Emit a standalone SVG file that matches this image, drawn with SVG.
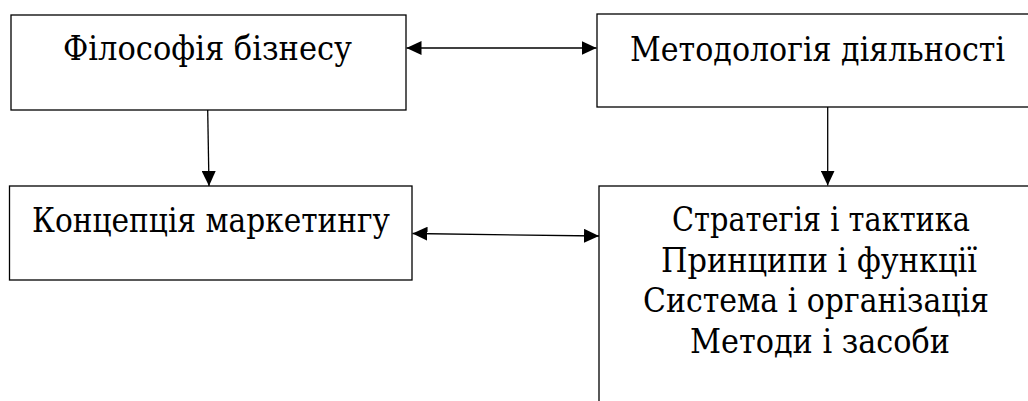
<svg xmlns="http://www.w3.org/2000/svg" width="1028" height="401" viewBox="0 0 1028 401">
  <style>
    .box { fill: #ffffff; stroke: #000000; stroke-width: 1.3; }
    .lbl { font-family: "DejaVu Serif", "Liberation Serif", serif; font-size: 33px; fill: #000000; text-anchor: middle; }
    .conn { fill: none; stroke: #000000; stroke-width: 1.3; }
  </style>
  <defs>
    <marker id="arrow" viewBox="0 0 15 14" refX="15" refY="7" markerWidth="15" markerHeight="14" markerUnits="userSpaceOnUse" orient="auto-start-reverse">
      <path d="M0,0 L15,7 L0,14 Z" fill="#000000"/>
    </marker>
  </defs>
  <rect width="1028" height="401" fill="#ffffff"/>

  <g id="node-philosophy">
    <rect class="box" x="11" y="15" width="395" height="95"/>
    <text class="lbl" x="207.5" y="60" textLength="289" lengthAdjust="spacingAndGlyphs">Філософія бізнесу</text>
  </g>

  <!-- right-hand boxes run to the page edge; their far sides sit just outside the view -->
  <g id="node-methodology">
    <rect class="box" x="597" y="14" width="432" height="93"/>
    <text class="lbl" x="817.5" y="61" textLength="375" lengthAdjust="spacingAndGlyphs">Методологія діяльності</text>
  </g>

  <g id="node-concept">
    <rect class="box" x="9.5" y="186" width="402.5" height="94"/>
    <text class="lbl" x="211" y="232" textLength="358" lengthAdjust="spacingAndGlyphs">Концепція маркетингу</text>
  </g>

  <g id="node-strategy">
    <rect class="box" x="599" y="186" width="430" height="216"/>
    <text class="lbl" x="821" y="231" textLength="298" lengthAdjust="spacingAndGlyphs">Стратегія і тактика</text>
    <text class="lbl" x="819" y="271.5" textLength="316" lengthAdjust="spacingAndGlyphs">Принципи і функції</text>
    <text class="lbl" x="816" y="312" textLength="346" lengthAdjust="spacingAndGlyphs">Система і організація</text>
    <text class="lbl" x="820" y="352.5" textLength="260" lengthAdjust="spacingAndGlyphs">Методи і засоби</text>
  </g>

  <g id="connectors">
    <line class="conn" x1="406.5" y1="48" x2="596.5" y2="48" marker-start="url(#arrow)" marker-end="url(#arrow)"/>
    <line class="conn" x1="412.5" y1="233.5" x2="599" y2="236" marker-start="url(#arrow)" marker-end="url(#arrow)"/>
    <line class="conn" x1="207.7" y1="110" x2="209" y2="186" marker-end="url(#arrow)"/>
    <line class="conn" x1="827.7" y1="107" x2="827.7" y2="185.5" marker-end="url(#arrow)"/>
  </g>
</svg>
